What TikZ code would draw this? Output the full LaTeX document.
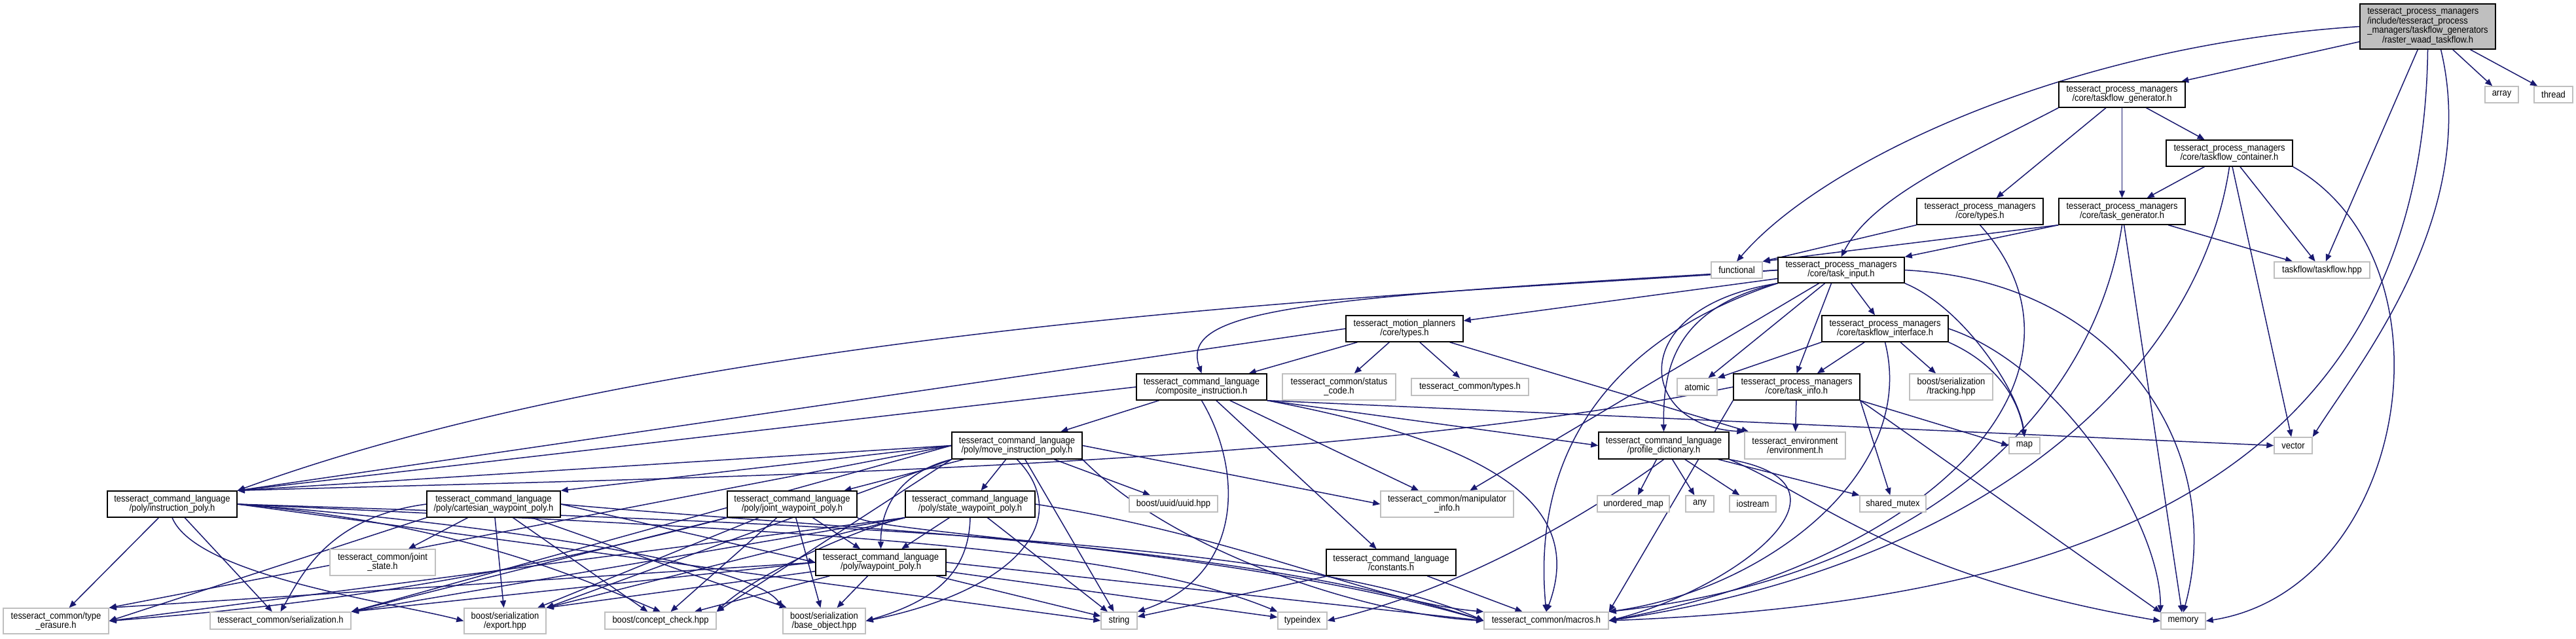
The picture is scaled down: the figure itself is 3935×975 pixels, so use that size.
\documentclass[tikz,border=0pt]{standalone}
\usepackage{fontspec}
\setmainfont{Liberation Sans}[FakeStretch=0.9]
\usetikzlibrary{arrows.meta}
\definecolor{edgecol}{HTML}{191970}
\definecolor{extgray}{HTML}{BFBFBF}
\definecolor{rootgray}{HTML}{BFBFBF}
\newcommand{\nf}{\fontsize{14.4}{14.3}\selectfont}
\pgfdeclarelayer{bglayer}
\pgfdeclarelayer{edgelayer}
\pgfsetlayers{bglayer,edgelayer,main}
\begin{document}
\begin{tikzpicture}[x=1pt,y=-1pt,
  int/.style={draw=black, line width=1.4pt, fill=white, inner sep=0pt, align=center, font=\nf},
  ext/.style={draw=extgray, line width=1.4pt, fill=white, inner sep=0pt, align=center, font=\nf},
  sz/.style n args={2}{minimum width=#1pt, minimum height=#2pt},
  e/.style={draw=edgecol, line width=1.5pt, -{Triangle[length=11pt,width=9pt]}}]
\begin{pgfonlayer}{bglayer}
\fill[white] (0,0) rectangle (3935,975);
\end{pgfonlayer}
\useasboundingbox (0,0) rectangle (3935,975);
% ---------- internal nodes ----------
\node[int,sz={207}{69},fill=rootgray] (R) at (3708.5,40.5) {\begin{tabular}{@{}l@{}}tesseract\_process\_managers\\/include/tesseract\_process\\\_managers/taskflow\_generators\\\multicolumn{1}{@{}c@{}}{/raster\_waad\_taskflow.h}\end{tabular}};
\node[int,sz={193}{39}] (TFG) at (3241.5,144.5) {tesseract\_process\_managers\\/core/taskflow\_generator.h};
\node[int,sz={193}{40}] (TFC) at (3405.5,234) {tesseract\_process\_managers\\/core/taskflow\_container.h};
\node[int,sz={193}{40}] (PMT) at (3024.5,323) {tesseract\_process\_managers\\/core/types.h};
\node[int,sz={193}{40}] (TG) at (3241.5,323) {tesseract\_process\_managers\\/core/task\_generator.h};
\node[int,sz={193}{39}] (TI) at (2812.5,412.5) {tesseract\_process\_managers\\/core/task\_input.h};
\node[int,sz={179}{40}] (MPT) at (2145.5,502) {tesseract\_motion\_planners\\/core/types.h};
\node[int,sz={193}{40}] (TFI) at (2879.5,502) {tesseract\_process\_managers\\/core/taskflow\_interface.h};
\node[int,sz={193}{40}] (TINFO) at (2744.5,591) {tesseract\_process\_managers\\/core/task\_info.h};
\node[int,sz={199}{40}] (CI) at (1835.5,591) {tesseract\_command\_language\\/composite\_instruction.h};
\node[int,sz={199}{41}] (PD) at (2541.5,680.5) {tesseract\_command\_language\\/profile\_dictionary.h};
\node[int,sz={199}{41}] (MIP) at (1553.5,680.5) {tesseract\_command\_language\\/poly/move\_instruction\_poly.h};
\node[int,sz={198}{40}] (IP) at (263,770) {tesseract\_command\_language\\/poly/instruction\_poly.h};
\node[int,sz={204}{40}] (CWP) at (754,770) {tesseract\_command\_language\\/poly/cartesian\_waypoint\_poly.h};
\node[int,sz={198}{40}] (JWP) at (1210,770) {tesseract\_command\_language\\/poly/joint\_waypoint\_poly.h};
\node[int,sz={198}{40}] (SWP) at (1482,770) {tesseract\_command\_language\\/poly/state\_waypoint\_poly.h};
\node[int,sz={199}{40}] (WP) at (1345.5,859) {tesseract\_command\_language\\/poly/waypoint\_poly.h};
\node[int,sz={198}{40}] (CONST) at (2125,859) {tesseract\_command\_language\\/constants.h};
% ---------- external nodes ----------
\node[ext,sz={51}{25}] (arr) at (3821.5,144.5) {array};
\node[ext,sz={59}{25}] (thr) at (3900.5,144.5) {thread};
\node[ext,sz={78}{25}] (func) at (2653,412.5) {functional};
\node[ext,sz={146}{25}] (tfhpp) at (3547,412.5) {taskflow/taskflow.hpp};
\node[ext,sz={173}{40}] (status) at (2045.5,591) {tesseract\_common/status\\\_code.h};
\node[ext,sz={179}{26}] (ctypes) at (2245.5,591) {tesseract\_common/types.h};
\node[ext,sz={61}{26}] (atomic) at (2592.5,591) {atomic};
\node[ext,sz={127}{40}] (tracking) at (2980.5,591) {boost/serialization\\/tracking.hpp};
\node[ext,sz={154}{41}] (env) at (2742,680.5) {tesseract\_environment\\/environment.h};
\node[ext,sz={47}{25}] (map) at (3092.5,680.5) {map};
\node[ext,sz={58}{25}] (vector) at (3503,680.5) {vector};
\node[ext,sz={135}{25}] (uuid) at (1792.5,769.5) {boost/uuid/uuid.hpp};
\node[ext,sz={203}{40}] (manip) at (2210.5,770) {tesseract\_common/manipulator\\\_info.h};
\node[ext,sz={110}{25}] (umap) at (2495,769.5) {unordered\_map};
\node[ext,sz={43}{25}] (any) at (2596.5,769.5) {any};
\node[ext,sz={71}{25}] (iostream) at (2677.5,769.5) {iostream};
\node[ext,sz={101}{25}] (shmutex) at (2891.5,769.5) {shared\_mutex};
\node[ext,sz={161}{40}] (jstate) at (584.5,859) {tesseract\_common/joint\\\_state.h};
\node[ext,sz={161}{39}] (terasure) at (85.5,948.5) {tesseract\_common/type\\\_erasure.h};
\node[ext,sz={215}{26}] (serial) at (428.5,948) {tesseract\_common/serialization.h};
\node[ext,sz={125}{39}] (export) at (771.5,948.5) {boost/serialization\\/export.hpp};
\node[ext,sz={170}{26}] (concept) at (1009,948) {boost/concept\_check.hpp};
\node[ext,sz={126}{39}] (baseobj) at (1259,948.5) {boost/serialization\\/base\_object.hpp};
\node[ext,sz={55}{26}] (string) at (1709.5,948) {string};
\node[ext,sz={75}{26}] (typeindex) at (1989.5,948) {typeindex};
\node[ext,sz={190}{26}] (macros) at (2362,948) {tesseract\_common/macros.h};
\node[ext,sz={68}{25}] (memory) at (3335,948.5) {memory};
% ---------- edges ----------
\begin{pgfonlayer}{edgelayer}
% root
\draw[e] (R.west) .. controls (3150,70) and (2780,250) .. (func.north);
\draw[e] (R) -- (TFG);
\draw[e] (R) -- (tfhpp);
\draw[e] (R.south) .. controls (3700,750) and (3150,920) .. (macros.east);
\draw[e] ([xshift=20pt]R.south) .. controls (3790,330) and (3600,560) .. (vector.north east);
\draw[e] (R) -- (arr);
\draw[e] (R) -- (thr);
% taskflow_generator
\draw[e] (TFG.south west) .. controls (3000,240) and (2860,300) .. (TI.north);
\draw[e] (TFG) -- (PMT);
\draw[e] (TFG) -- (TG);
\draw[e] (TFG) -- (TFC);
% taskflow_container
\draw[e] (TFC) -- (TG);
\draw[e] (TFC.south) .. controls (3360,560) and (3050,860) .. (macros.east);
\draw[e] (TFC) -- (vector);
\draw[e] (TFC) -- (tfhpp);
\draw[e] (TFC.south east) .. controls (3760,400) and (3680,900) .. (memory.east);
% pm types
\draw[e] (PMT.south west) -- (func.north east);
\draw[e] (PMT.south) .. controls (3220,560) and (2980,850) .. (macros.east);
% task_generator
\draw[e] (TG.south west) -- (func.north east);
\draw[e] (TG.south west) -- (TI.north east);
\draw[e] (TG.south) .. controls (3200,620) and (2950,880) .. (macros.north east);
\draw[e] (TG) -- (memory);
\draw[e] (TG) -- (tfhpp);
% task_input
\draw[e] (TI.west) .. controls (2300,445) and (1100,480) .. (IP.north east);
\draw[e] (TI.west) .. controls (2000,455) and (1800,470) .. (CI.north);
\draw[e] (TI) -- (MPT);
\draw[e] (TI) -- (atomic);
\draw[e] ([xshift=-15pt]TI.south) -- (TINFO.north);
\draw[e] (TI) -- (TFI);
\draw[e] (TI.south west) .. controls (2560,470) and (2540,560) .. (PD.north);
\draw[e] (TI.south west) .. controls (2480,470) and (2500,650) .. (env.north west);
\draw[e] (TI) -- (manip);
\draw[e] (TI.south east) .. controls (3000,470) and (3085,600) .. (map.north);
\draw[e] (TI.east) .. controls (3250,430) and (3400,700) .. (memory.north);
\draw[e] (TI.south west) .. controls (2450,520) and (2340,700) .. (macros.north);
% taskflow_interface
\draw[e] (TFI.south west) -- (atomic.north east);
\draw[e] (TFI) -- (TINFO);
\draw[e] (TFI) -- (tracking);
\draw[e] (TFI.south east) .. controls (3060,560) and (3085,620) .. (map.north);
\draw[e] (TFI.east) .. controls (3150,560) and (3300,800) .. (memory.north west);
\draw[e] (TFI.south) .. controls (2930,720) and (2700,900) .. (macros.north east);
% task_info
\draw[e] (TINFO) -- (env);
\draw[e] (TINFO.south east) -- (shmutex);
\draw[e] (TINFO.south east) -- (map.west);
\draw[e] (TINFO.south east) -- (memory.north west);
\draw[e] (TINFO.south west) -- (macros.north east);
\draw[e] (TINFO.west) .. controls (2000,720) and (1000,730) .. (IP.north east);
% motion planners types
\draw[e] (MPT.west) -- (IP.north east);
\draw[e] (MPT) -- (CI);
\draw[e] (MPT) -- (status);
\draw[e] (MPT) -- (ctypes);
\draw[e] (MPT) -- (env);
% composite_instruction
\draw[e] (CI) -- (MIP);
\draw[e] (CI.west) -- (IP.north east);
\draw[e] (CI) -- (CONST);
\draw[e] (CI.south east) -- (PD.west);
\draw[e] (CI) -- (manip);
\draw[e] (CI.south) .. controls (1900,720) and (1900,880) .. (string.north east);
\draw[e] (CI.south east) .. controls (2300,680) and (2420,780) .. (macros.north);
\draw[e] (CI.south east) -- (vector.west);
% move_instruction_poly
\draw[e] (MIP.west) -- (IP.north east);
\draw[e] (MIP.west) -- (CWP.north east);
\draw[e] (MIP) -- (JWP);
\draw[e] (MIP) -- (SWP);
\draw[e] (MIP.south west) .. controls (1380,720) and (1345,770) .. (WP.north);
\draw[e] (MIP) -- (uuid);
\draw[e] (MIP.east) -- (manip.west);
\draw[e] (MIP.west) -- (terasure.north east);
\draw[e] (MIP.west) -- (serial.north east);
\draw[e] (MIP.south west) -- (export.north east);
\draw[e] (MIP.south west) -- (concept.north east);
\draw[e] (MIP.south) .. controls (1640,790) and (1560,900) .. (baseobj.east);
\draw[e] (MIP) -- (string);
\draw[e] (MIP.south east) .. controls (1800,850) and (2100,940) .. (macros.west);
% instruction_poly
\draw[e] (IP) -- (terasure);
\draw[e] (IP) -- (serial);
\draw[e] (IP.south) .. controls (300,880) and (600,920) .. (export.west);
\draw[e] (IP.east) .. controls (700,800) and (880,880) .. (concept.north);
\draw[e] (IP.east) .. controls (750,800) and (1150,860) .. (baseobj.north west);
\draw[e] (IP.east) -- (string.west);
\draw[e] (IP.east) .. controls (1200,810) and (1700,830) .. (typeindex.north west);
\draw[e] (IP.east) .. controls (1300,800) and (2000,830) .. (macros.west);
% waypoint_poly
\draw[e] (WP.west) -- (terasure.north east);
\draw[e] (WP.west) -- (serial.north east);
\draw[e] (WP) -- (export.north east);
\draw[e] (WP) -- (concept);
\draw[e] (WP) -- (baseobj);
\draw[e] (WP) -- (string);
\draw[e] (WP) -- (typeindex);
\draw[e] (WP.east) -- (macros.west);
% cartesian_waypoint_poly
\draw[e] (CWP.east) -- (WP.west);
\draw[e] (CWP) -- (jstate);
\draw[e] (CWP.south west) -- (terasure.east);
\draw[e] (CWP.west) .. controls (500,790) and (460,880) .. (serial.north);
\draw[e] (CWP) -- (export);
\draw[e] (CWP) -- (concept);
\draw[e] (CWP) -- (baseobj);
\draw[e] (CWP.east) .. controls (1300,810) and (1900,830) .. (macros.west);
% joint_waypoint_poly
\draw[e] (JWP) -- (WP);
\draw[e] (JWP.south west) .. controls (700,900) and (400,930) .. (terasure.east);
\draw[e] (JWP.south west) -- (serial.north east);
\draw[e] (JWP) -- (export);
\draw[e] (JWP) -- (concept);
\draw[e] (JWP) -- (baseobj);
\draw[e] (JWP.south east) .. controls (1350,815) and (1900,840) .. (macros.west);
% state_waypoint_poly
\draw[e] (SWP) -- (WP);
\draw[e] (SWP.south west) -- (terasure.east);
\draw[e] (SWP.south west) -- (serial.north east);
\draw[e] (SWP.south west) -- (export.north east);
\draw[e] (SWP.south west) .. controls (1300,810) and (1150,880) .. (concept.north east);
\draw[e] (SWP.south) .. controls (1480,880) and (1420,920) .. (baseobj.east);
\draw[e] (SWP) -- (string);
\draw[e] (SWP.east) .. controls (1900,820) and (2100,920) .. (macros.north west);
% constants
\draw[e] (CONST) -- (string);
\draw[e] (CONST) -- (macros);
% profile_dictionary
\draw[e] (PD) -- (umap);
\draw[e] (PD) -- (any);
\draw[e] (PD) -- (iostream);
\draw[e] (PD) -- (shmutex);
\draw[e] (PD.south east) .. controls (2780,760) and (2900,880) .. (memory.west);
\draw[e] (PD.south east) .. controls (2860,740) and (2650,900) .. (macros.east);
\draw[e] (PD.south) .. controls (2420,790) and (2230,900) .. (typeindex.east);
\end{pgfonlayer}
\end{tikzpicture}
\end{document}
